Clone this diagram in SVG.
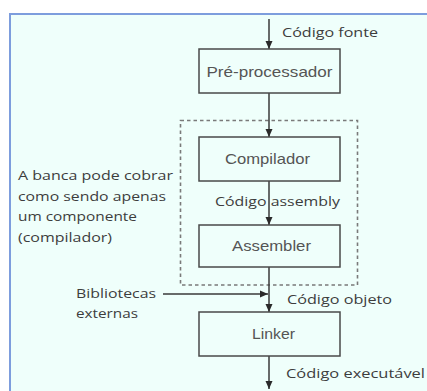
<svg xmlns="http://www.w3.org/2000/svg" width="427" height="391" viewBox="0 0 427 391">
<defs>
<style>
.box{fill:#effffb;stroke:#4a4a4a;stroke-width:1.5}
.bt{font-family:"Liberation Sans",Arial,sans-serif;font-size:14.5px;fill:#555;text-anchor:middle;dominant-baseline:central}
.lb{font-family:"Open Sans","Liberation Sans",sans-serif;font-size:13.5px;fill:#3d3d3d;dominant-baseline:central}
.ln{stroke:#3a3a3a;stroke-width:1.5;fill:none}
</style>
<marker id="ah" viewBox="0 0 8 8" refX="8" refY="4" markerWidth="8" markerHeight="8" markerUnits="userSpaceOnUse" orient="auto">
<path d="M0,0.5 L8,4 L0,7.5 Z" fill="#2a2a2a"/>
</marker>
</defs>
<rect x="0" y="0" width="427" height="391" fill="#fff"/>
<rect x="10" y="14" width="420" height="380" fill="#effffb" stroke="#7d9ddd" stroke-width="2"/>
<rect id="scope" x="180.5" y="120.5" width="177" height="164.5" fill="none" stroke="#7a7a7a" stroke-width="1.6" stroke-dasharray="3.5 3"/>
<g id="connectors">
<line class="ln" x1="269" y1="19" x2="269" y2="49" marker-end="url(#ah)"/>
<line class="ln" x1="269" y1="93" x2="269" y2="137" marker-end="url(#ah)"/>
<line class="ln" x1="269" y1="181" x2="269" y2="225" marker-end="url(#ah)"/>
<line class="ln" x1="269" y1="267" x2="269" y2="312" marker-end="url(#ah)"/>
<line class="ln" x1="163" y1="294" x2="268" y2="294" marker-end="url(#ah)"/>
<line class="ln" x1="269" y1="356" x2="269" y2="389" marker-end="url(#ah)"/>
</g>
<g id="preprocessador"><rect class="box" x="199" y="49" width="141" height="44"/><text class="bt" x="269.5" y="72" textLength="126" lengthAdjust="spacingAndGlyphs">Pré-processador</text></g>
<g id="compilador"><rect class="box" x="199" y="137" width="141" height="44"/><text class="bt" x="267.5" y="159" textLength="85" lengthAdjust="spacingAndGlyphs">Compilador</text></g>
<g id="assembler"><rect class="box" x="199" y="225" width="141" height="42"/><text class="bt" x="271.5" y="246" textLength="79" lengthAdjust="spacingAndGlyphs">Assembler</text></g>
<g id="linker"><rect class="box" x="199" y="312" width="141" height="44"/><text class="bt" x="273.5" y="334" textLength="43" lengthAdjust="spacingAndGlyphs">Linker</text></g>
<g id="labels">
<text class="lb" x="282" y="32" textLength="96" lengthAdjust="spacingAndGlyphs">Código fonte</text>
<text class="lb" x="215" y="201" textLength="125" lengthAdjust="spacingAndGlyphs">Código assembly</text>
<text class="lb" x="287" y="299" textLength="105" lengthAdjust="spacingAndGlyphs">Código objeto</text>
<text class="lb" x="286" y="373" textLength="139" lengthAdjust="spacingAndGlyphs">Código executável</text>
<text class="lb" x="76" y="293" textLength="80" lengthAdjust="spacingAndGlyphs">Bibliotecas</text>
<text class="lb" x="76" y="313" textLength="62" lengthAdjust="spacingAndGlyphs">externas</text>
<text class="lb" x="18" y="175" textLength="155" lengthAdjust="spacingAndGlyphs">A banca pode cobrar</text>
<text class="lb" x="18" y="195.5" textLength="148" lengthAdjust="spacingAndGlyphs">como sendo apenas</text>
<text class="lb" x="18" y="216" textLength="119" lengthAdjust="spacingAndGlyphs">um componente</text>
<text class="lb" x="18" y="237" textLength="94" lengthAdjust="spacingAndGlyphs">(compilador)</text>
</g>
</svg>
